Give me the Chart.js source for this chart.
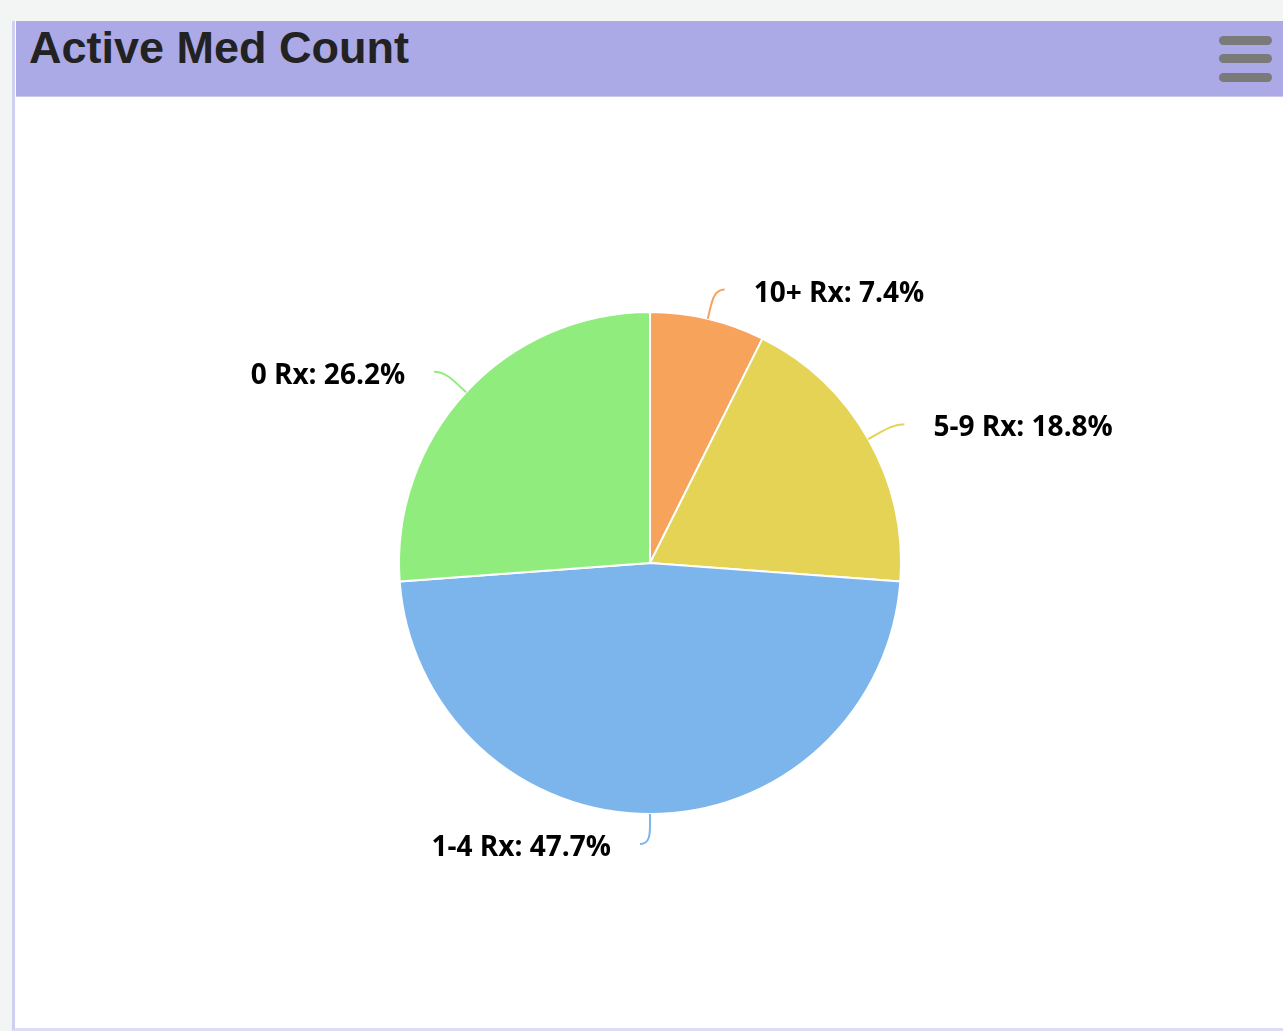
<!DOCTYPE html>
<html>
<head>
<meta charset="utf-8">
<script src="https://cdn.jsdelivr.net/npm/chart.js@4/dist/chart.umd.min.js"></script>
<style>
  html, body { margin: 0; padding: 0; width: 1283px; height: 1031px; overflow: hidden; background: #f3f4f4; }
  #panel { position: absolute; left: 12px; top: 21px; width: 1271px; height: 1007px; background: #fff;
           border-left: 3px solid #cfcff2; border-bottom: 3px solid #dcdcf6; }
  #header { position: absolute; left: 16px; top: 21px; width: 1267px; height: 75px; background: #aba9e6;
            border-bottom: 1px solid #c9c8f0; }
  #title { position: absolute; left: 29px; top: 22px; font-family: "Liberation Sans", Arial, sans-serif;
           font-weight: bold; font-size: 45px; color: #222; line-height: 52px; white-space: nowrap; }
  .bar { position: absolute; left: 1219px; width: 53px; height: 9px; border-radius: 5px; background: #7a7a7a; }
  #wrap { position: absolute; left: 0; top: 0; width: 1283px; height: 1031px; }
</style>
</head>
<body>
<div id="panel"></div>
<div id="header"></div>
<div id="title">Active Med Count</div>
<div class="bar" style="top:36px"></div>
<div class="bar" style="top:54px"></div>
<div class="bar" style="top:73px"></div>
<div id="wrap"><canvas id="c" width="1283" height="1031"></canvas></div>
<script>
const categories = ["10+ Rx", "5-9 Rx", "1-4 Rx", "0 Rx"];
const percentValues = [7.4, 18.8, 47.7, 26.2];
const sliceColors = ["#f7a35c", "#e4d354", "#7cb5ec", "#90ed7d"];

const pieLabels = {
  id: 'pieLabels',
  afterDatasetsDraw(chart) {
    const ctx = chart.ctx;
    const meta = chart.getDatasetMeta(0);
    const ds = chart.data.datasets[0];
    ctx.save();
    meta.data.forEach((arc, i) => {
      const p = arc.getProps(['x', 'y', 'startAngle', 'endAngle', 'outerRadius'], true);
      const a = (p.startAngle + p.endAngle) / 2;
      const cos = Math.cos(a), sin = Math.sin(a);
      const left = cos < 0.01;
      const dir = left ? -1 : 1;
      const R = p.outerRadius;
      const lx = p.x + (R + 30) * cos, ly = p.y + (R + 30) * sin;
      const bx = p.x + (R + 10) * cos, by = p.y + (R + 10) * sin;
      const ex = p.x + R * cos, ey = p.y + R * sin;
      ctx.beginPath();
      ctx.moveTo(lx + dir * 10, ly);
      ctx.bezierCurveTo(lx, ly, 2 * bx - ex, 2 * by - ey, bx, by);
      ctx.lineTo(ex, ey);
      ctx.strokeStyle = ds.backgroundColor[i];
      ctx.lineWidth = 2;
      ctx.stroke();
      ctx.font = 'bold 28px "Open Sans", sans-serif';
      ctx.fillStyle = '#000';
      ctx.textBaseline = 'middle';
      ctx.textAlign = left ? 'right' : 'left';
      ctx.fillText(chart.data.labels[i] + ': ' + ds.data[i].toFixed(1) + '%', lx + dir * 39, ly + 4);
    });
    ctx.restore();
  }
};

new Chart(document.getElementById('c'), {
  type: 'pie',
  data: {
    labels: categories,
    datasets: [{
      data: percentValues,
      backgroundColor: sliceColors,
      borderColor: '#ffffff',
      borderWidth: 2,
      hoverOffset: 0
    }]
  },
  options: {
    responsive: false,
    animation: false,
    radius: 251,
    layout: { padding: { left: 17, right: 0, top: 95, bottom: 0 } },
    plugins: { legend: { display: false }, tooltip: { enabled: false } }
  },
  plugins: [pieLabels]
});
</script>
</body>
</html>
